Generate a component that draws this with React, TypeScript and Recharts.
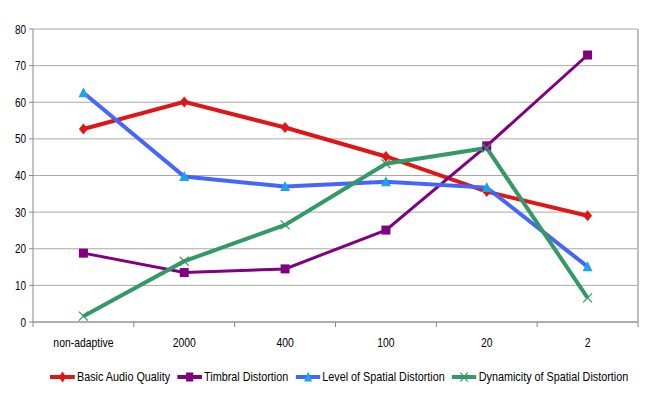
import { CartesianGrid, Line, LineChart, ReferenceLine, XAxis, YAxis } from "recharts";

const categories = ["non-adaptive", "2000", "400", "100", "20", "2"];
const basicAudioQuality = [52.7, 60.1, 53.1, 45.2, 35.6, 29.0];
const timbralDistortion = [18.8, 13.5, 14.5, 25.1, 48.1, 72.9];
const levelOfSpatialDistortion = [62.6, 39.7, 37.0, 38.3, 36.7, 15.1];
const dynamicityOfSpatialDistortion = [1.6, 16.6, 26.5, 43.2, 47.5, 6.6];
const yTicks = [0, 10, 20, 30, 40, 50, 60, 70, 80];

const font = "'Liberation Sans', Arial, sans-serif";
const squeeze = 0.8; // the original text is narrower than Liberation Sans

const data = categories.map((c, i) => ({
  x: i + 0.5,
  name: c,
  baq: basicAudioQuality[i],
  td: timbralDistortion[i],
  lsd: levelOfSpatialDistortion[i],
  dsd: dynamicityOfSpatialDistortion[i],
}));

const xTicks = Array.from({ length: 13 }, (_, i) => i / 2);

const diamond = (cx: number, cy: number, fill: string, k?: string) => (
  <path key={k} d={`M${cx},${cy - 5.5}L${cx + 4.5},${cy}L${cx},${cy + 5.5}L${cx - 4.5},${cy}Z`} fill={fill} />
);
const square = (cx: number, cy: number, fill: string, k?: string) => (
  <rect key={k} x={cx - 4.5} y={cy - 4.5} width={9} height={9} fill={fill} />
);
const triangle = (cx: number, cy: number, fill: string, k?: string) => (
  <path key={k} d={`M${cx},${cy - 5.5}L${cx + 5},${cy + 4.5}L${cx - 5},${cy + 4.5}Z`} fill={fill} />
);
const cross = (cx: number, cy: number, fill: string, k?: string) => (
  <path key={k} d={`M${cx - 4.5},${cy - 4.5}L${cx + 4.5},${cy + 4.5}M${cx + 4.5},${cy - 4.5}L${cx - 4.5},${cy + 4.5}`} stroke={fill} strokeWidth={1.2} fill="none" />
);

const series = [
  { key: "baq", name: "Basic Audio Quality", line: "#e01515", marker: "#e01515", width: 4, shape: diamond },
  { key: "td", name: "Timbral Distortion", line: "#800080", marker: "#800080", width: 3, shape: square },
  { key: "lsd", name: "Level of Spatial Distortion", line: "#4466ff", marker: "#1ea3ea", width: 4, shape: triangle },
  { key: "dsd", name: "Dynamicity of Spatial Distortion", line: "#339966", marker: "#339966", width: 4, shape: cross },
];

function XTick({ x, y, payload }: any) {
  const v = payload.value;
  if (Number.isInteger(v)) {
    return <line x1={x} x2={x} y1={y} y2={y + 5} stroke="#888" />;
  }
  return (
    <text transform={`translate(${x},${y + 25}) scale(${squeeze},1)`} textAnchor="middle" fontSize={13} fontFamily={font} fill="#000">
      {categories[Math.floor(v)]}
    </text>
  );
}

function YTick({ x, y, payload }: any) {
  return (
    <text transform={`translate(${x},${y + 4.5}) scale(${squeeze},1)`} textAnchor="end" fontSize={12.5} fontFamily={font} fill="#000">
      {payload.value}
    </text>
  );
}

export default function App() {
  return (
    <div style={{ position: "absolute", left: 0, top: 0, width: 650, height: 396, background: "#fff" }}>
      <LineChart width={650} height={396} data={data} margin={{ top: 29, right: 12, left: 0, bottom: 44 }}>
        <CartesianGrid vertical={false} stroke="#a8a8a8" />
        <XAxis
          dataKey="x"
          type="number"
          domain={[0, 6]}
          ticks={xTicks}
          interval={0}
          tickLine={false}
          tickSize={0}
          tickMargin={0}
          height={30}
          axisLine={{ stroke: "#888" }}
          tick={<XTick />}
        />
        <YAxis
          width={33}
          domain={[0, 80]}
          ticks={yTicks}
          interval={0}
          tickSize={4}
          tickMargin={3}
          axisLine={{ stroke: "#888" }}
          tickLine={{ stroke: "#888" }}
          tick={<YTick />}
        />
        <ReferenceLine x={6} stroke="#bdbdbd" strokeWidth={2} />
        {series.map((s) => (
          <Line
            key={s.key}
            type="linear"
            dataKey={s.key}
            stroke={s.line}
            strokeWidth={s.width}
            isAnimationActive={false}
            dot={(p: any) => s.shape(p.cx, p.cy, s.marker, `${s.key}-${p.index}`)}
            activeDot={false}
          />
        ))}
      </LineChart>
      <div
        style={{
          position: "absolute",
          left: 50,
          top: 369,
          display: "flex",
          alignItems: "center",
          gap: 7 / squeeze,
          fontFamily: font,
          fontSize: 13.5,
          color: "#000",
          whiteSpace: "nowrap",
          transform: `scaleX(${squeeze})`,
          transformOrigin: "left center",
        }}
      >
        {series.map((s) => (
          <div key={s.key} style={{ display: "flex", alignItems: "center", gap: 2 / squeeze }}>
            <svg width={25 / squeeze} height={14}>
              <line x1={0} x2={25 / squeeze} y1={7} y2={7} stroke={s.line} strokeWidth={4} />
              {s.shape(12.5 / squeeze, 7, s.marker)}
            </svg>
            <span>{s.name}</span>
          </div>
        ))}
      </div>
    </div>
  );
}
